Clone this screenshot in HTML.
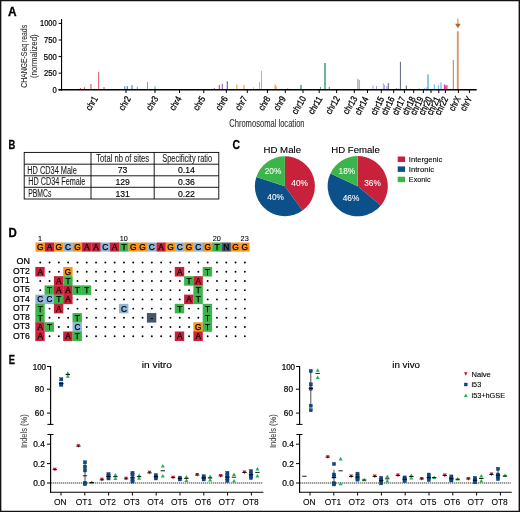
<!DOCTYPE html>
<html><head><meta charset="utf-8"><title>Figure</title>
<style>
html,body{margin:0;padding:0;background:#fff;}
body{width:520px;height:512px;overflow:hidden;}
svg{display:block;font-family:"Liberation Sans",sans-serif;will-change:transform;}
</style></head>
<body>
<svg width="520" height="512" viewBox="0 0 520 512" fill="#000000">
<rect x="0" y="0" width="520" height="512" fill="#ffffff"/>
<text x="26.60" y="87.80" font-size="9.7" textLength="62.90" lengthAdjust="spacingAndGlyphs" transform="rotate(-90 26.60 87.80)" fill="#2b2b2b" stroke="#2b2b2b" stroke-width="0.08">CHANGE-Seq reads</text>
<text x="37.40" y="78.10" font-size="9.7" textLength="43.80" lengthAdjust="spacingAndGlyphs" transform="rotate(-90 37.40 78.10)" fill="#2b2b2b" stroke="#2b2b2b" stroke-width="0.08">(normalized)</text>
<text x="56.70" y="26.45" font-size="8.5" text-anchor="end" textLength="16.73" lengthAdjust="spacingAndGlyphs" stroke="#000000" stroke-width="0.22">1000</text>
<line x1="58.60" y1="23.40" x2="62.10" y2="23.40" stroke="#000000" stroke-width="1.0"/>
<text x="56.70" y="43.05" font-size="8.5" text-anchor="end" textLength="12.65" lengthAdjust="spacingAndGlyphs" stroke="#000000" stroke-width="0.22">750</text>
<line x1="58.60" y1="40.00" x2="62.10" y2="40.00" stroke="#000000" stroke-width="1.0"/>
<text x="56.70" y="59.65" font-size="8.5" text-anchor="end" textLength="12.85" lengthAdjust="spacingAndGlyphs" stroke="#000000" stroke-width="0.22">500</text>
<line x1="58.60" y1="56.60" x2="62.10" y2="56.60" stroke="#000000" stroke-width="1.0"/>
<text x="56.70" y="76.25" font-size="8.5" text-anchor="end" textLength="12.65" lengthAdjust="spacingAndGlyphs" stroke="#000000" stroke-width="0.22">250</text>
<line x1="58.60" y1="73.20" x2="62.10" y2="73.20" stroke="#000000" stroke-width="1.0"/>
<text x="56.70" y="92.85" font-size="8.5" text-anchor="end" textLength="4.28" lengthAdjust="spacingAndGlyphs" stroke="#000000" stroke-width="0.22">0</text>
<line x1="58.60" y1="89.80" x2="62.10" y2="89.80" stroke="#000000" stroke-width="1.0"/>
<rect x="79.85" y="88.00" width="1.10" height="2.10" fill="#e05a70"/>
<rect x="83.85" y="87.30" width="1.10" height="2.80" fill="#e05a70"/>
<rect x="90.10" y="84.00" width="1.60" height="6.10" fill="#ea8b9b"/>
<rect x="98.10" y="72.00" width="1.00" height="18.10" fill="#e05a70"/>
<rect x="103.25" y="87.00" width="1.50" height="3.10" fill="#ea8b9b"/>
<rect x="124.25" y="86.20" width="1.10" height="3.90" fill="#4f8fc4"/>
<rect x="126.75" y="86.20" width="1.10" height="3.90" fill="#3f78ad"/>
<rect x="131.35" y="85.20" width="1.30" height="4.90" fill="#4f8fc4"/>
<rect x="136.80" y="87.00" width="1.00" height="3.10" fill="#4f8fc4"/>
<rect x="147.00" y="82.00" width="1.00" height="8.10" fill="#5cc46a"/>
<rect x="154.45" y="86.20" width="1.10" height="3.90" fill="#5cc46a"/>
<rect x="213.85" y="88.00" width="0.90" height="2.10" fill="#7d52a3"/>
<rect x="218.80" y="85.00" width="1.00" height="5.10" fill="#7d52a3"/>
<rect x="221.80" y="83.80" width="1.00" height="6.30" fill="#7d52a3"/>
<rect x="226.75" y="81.30" width="1.10" height="8.80" fill="#7d52a3"/>
<rect x="236.15" y="84.50" width="1.30" height="5.60" fill="#f7a64a"/>
<rect x="243.35" y="85.00" width="1.30" height="5.10" fill="#f7a64a"/>
<rect x="253.00" y="87.50" width="1.00" height="2.60" fill="#f7a64a"/>
<rect x="259.00" y="82.00" width="1.00" height="8.10" fill="#f7a64a"/>
<rect x="260.95" y="70.80" width="1.10" height="19.30" fill="#f7a64a"/>
<rect x="274.70" y="84.50" width="1.00" height="5.60" fill="#ef8d1f"/>
<rect x="275.70" y="86.30" width="1.00" height="3.80" fill="#ef8d1f"/>
<rect x="287.00" y="88.30" width="1.20" height="1.80" fill="#ef8d1f"/>
<rect x="300.20" y="85.00" width="1.60" height="5.10" fill="#57a893"/>
<rect x="319.95" y="87.00" width="1.10" height="3.10" fill="#57a893"/>
<rect x="324.15" y="63.00" width="1.70" height="27.10" fill="#57a893"/>
<rect x="328.65" y="87.00" width="1.30" height="3.10" fill="#57a893"/>
<rect x="357.15" y="78.80" width="1.30" height="11.30" fill="#a9a3dc"/>
<rect x="358.70" y="80.00" width="1.20" height="10.10" fill="#a9a3dc"/>
<rect x="372.45" y="85.50" width="1.10" height="4.60" fill="#a9a3dc"/>
<rect x="376.00" y="86.00" width="1.00" height="4.10" fill="#a9a3dc"/>
<rect x="382.80" y="83.30" width="1.00" height="6.80" fill="#a9a3dc"/>
<rect x="384.10" y="85.00" width="1.00" height="5.10" fill="#a9a3dc"/>
<rect x="386.30" y="86.00" width="1.00" height="4.10" fill="#a9a3dc"/>
<rect x="387.80" y="83.00" width="1.00" height="7.10" fill="#5c6478"/>
<rect x="395.80" y="88.20" width="1.00" height="1.90" fill="#5c6478"/>
<rect x="397.80" y="88.60" width="1.00" height="1.50" fill="#5c6478"/>
<rect x="426.50" y="87.00" width="1.00" height="3.10" fill="#62b8ea"/>
<rect x="399.90" y="61.80" width="1.00" height="28.30" fill="#5c6478"/>
<rect x="405.80" y="85.50" width="1.00" height="4.60" fill="#5c6478"/>
<rect x="418.80" y="88.30" width="1.00" height="1.80" fill="#62b8ea"/>
<rect x="424.00" y="88.30" width="1.00" height="1.80" fill="#62b8ea"/>
<rect x="427.25" y="74.30" width="1.50" height="15.80" fill="#62b8ea"/>
<rect x="433.80" y="84.30" width="1.00" height="5.80" fill="#62b8ea"/>
<rect x="437.80" y="85.00" width="1.00" height="5.10" fill="#62b8ea"/>
<rect x="440.40" y="82.50" width="1.20" height="7.60" fill="#62b8ea"/>
<rect x="443.90" y="84.50" width="1.20" height="5.60" fill="#e8379a"/>
<rect x="445.10" y="85.50" width="1.20" height="4.60" fill="#e8379a"/>
<rect x="446.30" y="85.00" width="1.20" height="5.10" fill="#e8379a"/>
<rect x="452.80" y="60.00" width="1.00" height="30.10" fill="#c47a45"/>
<rect x="456.85" y="31.30" width="1.90" height="58.80" fill="#d79a6c"/>
<line x1="61.55" y1="19.00" x2="61.55" y2="90.40" stroke="#000000" stroke-width="1.1"/>
<line x1="58.60" y1="89.75" x2="476.70" y2="89.75" stroke="#000000" stroke-width="1.65"/>
<g>
<text x="98.10" y="98.60" font-size="9.4" text-anchor="end" textLength="14.80" lengthAdjust="spacingAndGlyphs" transform="rotate(-59 98.10 98.60)" stroke="#000000" stroke-width="0.28">chr1</text>
<line x1="126.00" y1="89.80" x2="126.00" y2="93.00" stroke="#000000" stroke-width="1.0"/>
<text x="131.20" y="98.60" font-size="9.4" text-anchor="end" textLength="14.80" lengthAdjust="spacingAndGlyphs" transform="rotate(-59 131.20 98.60)" stroke="#000000" stroke-width="0.28">chr2</text>
<line x1="155.00" y1="89.80" x2="155.00" y2="93.00" stroke="#000000" stroke-width="1.0"/>
<text x="158.70" y="98.60" font-size="9.4" text-anchor="end" textLength="14.80" lengthAdjust="spacingAndGlyphs" transform="rotate(-59 158.70 98.60)" stroke="#000000" stroke-width="0.28">chr3</text>
<line x1="179.50" y1="89.80" x2="179.50" y2="93.00" stroke="#000000" stroke-width="1.0"/>
<text x="182.00" y="98.60" font-size="9.4" text-anchor="end" textLength="14.80" lengthAdjust="spacingAndGlyphs" transform="rotate(-59 182.00 98.60)" stroke="#000000" stroke-width="0.28">chr4</text>
<line x1="203.80" y1="89.80" x2="203.80" y2="93.00" stroke="#000000" stroke-width="1.0"/>
<text x="205.70" y="98.60" font-size="9.4" text-anchor="end" textLength="14.80" lengthAdjust="spacingAndGlyphs" transform="rotate(-59 205.70 98.60)" stroke="#000000" stroke-width="0.28">chr5</text>
<line x1="226.30" y1="89.80" x2="226.30" y2="93.00" stroke="#000000" stroke-width="1.0"/>
<text x="228.20" y="98.60" font-size="9.4" text-anchor="end" textLength="14.80" lengthAdjust="spacingAndGlyphs" transform="rotate(-59 228.20 98.60)" stroke="#000000" stroke-width="0.28">chr6</text>
<line x1="247.30" y1="89.80" x2="247.30" y2="93.00" stroke="#000000" stroke-width="1.0"/>
<text x="247.70" y="98.60" font-size="9.4" text-anchor="end" textLength="14.80" lengthAdjust="spacingAndGlyphs" transform="rotate(-59 247.70 98.60)" stroke="#000000" stroke-width="0.28">chr7</text>
<line x1="267.40" y1="89.80" x2="267.40" y2="93.00" stroke="#000000" stroke-width="1.0"/>
<text x="270.80" y="98.60" font-size="9.4" text-anchor="end" textLength="14.80" lengthAdjust="spacingAndGlyphs" transform="rotate(-59 270.80 98.60)" stroke="#000000" stroke-width="0.28">chr8</text>
<line x1="285.30" y1="89.80" x2="285.30" y2="93.00" stroke="#000000" stroke-width="1.0"/>
<text x="286.20" y="98.60" font-size="9.4" text-anchor="end" textLength="14.80" lengthAdjust="spacingAndGlyphs" transform="rotate(-59 286.20 98.60)" stroke="#000000" stroke-width="0.28">chr9</text>
<line x1="303.00" y1="89.80" x2="303.00" y2="93.00" stroke="#000000" stroke-width="1.0"/>
<text x="306.50" y="98.60" font-size="9.4" text-anchor="end" textLength="19.20" lengthAdjust="spacingAndGlyphs" transform="rotate(-59 306.50 98.60)" stroke="#000000" stroke-width="0.28">chr10</text>
<line x1="319.20" y1="89.80" x2="319.20" y2="93.00" stroke="#000000" stroke-width="1.0"/>
<text x="322.80" y="98.60" font-size="9.4" text-anchor="end" textLength="19.20" lengthAdjust="spacingAndGlyphs" transform="rotate(-59 322.80 98.60)" stroke="#000000" stroke-width="0.28">chr11</text>
<line x1="336.60" y1="89.80" x2="336.60" y2="93.00" stroke="#000000" stroke-width="1.0"/>
<text x="340.30" y="98.60" font-size="9.4" text-anchor="end" textLength="19.20" lengthAdjust="spacingAndGlyphs" transform="rotate(-59 340.30 98.60)" stroke="#000000" stroke-width="0.28">chr12</text>
<line x1="354.30" y1="89.80" x2="354.30" y2="93.00" stroke="#000000" stroke-width="1.0"/>
<text x="357.70" y="98.60" font-size="9.4" text-anchor="end" textLength="19.20" lengthAdjust="spacingAndGlyphs" transform="rotate(-59 357.70 98.60)" stroke="#000000" stroke-width="0.28">chr13</text>
<line x1="367.50" y1="89.80" x2="367.50" y2="93.00" stroke="#000000" stroke-width="1.0"/>
<text x="368.80" y="98.60" font-size="9.4" text-anchor="end" textLength="19.20" lengthAdjust="spacingAndGlyphs" transform="rotate(-63 368.80 98.60)" stroke="#000000" stroke-width="0.28">chr14</text>
<line x1="381.30" y1="89.80" x2="381.30" y2="93.00" stroke="#000000" stroke-width="1.0"/>
<text x="384.50" y="98.60" font-size="9.4" text-anchor="end" textLength="19.20" lengthAdjust="spacingAndGlyphs" transform="rotate(-64 384.50 98.60)" stroke="#000000" stroke-width="0.28">chr15</text>
<line x1="393.70" y1="89.80" x2="393.70" y2="93.00" stroke="#000000" stroke-width="1.0"/>
<text x="395.00" y="98.60" font-size="9.4" text-anchor="end" textLength="19.20" lengthAdjust="spacingAndGlyphs" transform="rotate(-64 395.00 98.60)" stroke="#000000" stroke-width="0.28">chr16</text>
<line x1="404.40" y1="89.80" x2="404.40" y2="93.00" stroke="#000000" stroke-width="1.0"/>
<text x="405.80" y="98.60" font-size="9.4" text-anchor="end" textLength="19.20" lengthAdjust="spacingAndGlyphs" transform="rotate(-64 405.80 98.60)" stroke="#000000" stroke-width="0.28">chr17</text>
<line x1="413.70" y1="89.80" x2="413.70" y2="93.00" stroke="#000000" stroke-width="1.0"/>
<text x="415.80" y="98.60" font-size="9.4" text-anchor="end" textLength="19.20" lengthAdjust="spacingAndGlyphs" transform="rotate(-64 415.80 98.60)" stroke="#000000" stroke-width="0.28">chr18</text>
<line x1="423.40" y1="89.80" x2="423.40" y2="93.00" stroke="#000000" stroke-width="1.0"/>
<text x="423.90" y="98.60" font-size="9.4" text-anchor="end" textLength="19.20" lengthAdjust="spacingAndGlyphs" transform="rotate(-64 423.90 98.60)" stroke="#000000" stroke-width="0.28">chr19</text>
<line x1="431.00" y1="89.80" x2="431.00" y2="93.00" stroke="#000000" stroke-width="1.0"/>
<text x="432.40" y="98.60" font-size="9.4" text-anchor="end" textLength="19.20" lengthAdjust="spacingAndGlyphs" transform="rotate(-64 432.40 98.60)" stroke="#000000" stroke-width="0.28">chr20</text>
<line x1="438.80" y1="89.80" x2="438.80" y2="93.00" stroke="#000000" stroke-width="1.0"/>
<text x="440.40" y="98.60" font-size="9.4" text-anchor="end" textLength="19.20" lengthAdjust="spacingAndGlyphs" transform="rotate(-64 440.40 98.60)" stroke="#000000" stroke-width="0.28">chr21</text>
<line x1="445.40" y1="89.80" x2="445.40" y2="93.00" stroke="#000000" stroke-width="1.0"/>
<text x="448.50" y="98.60" font-size="9.4" text-anchor="end" textLength="19.20" lengthAdjust="spacingAndGlyphs" transform="rotate(-64 448.50 98.60)" stroke="#000000" stroke-width="0.28">chr22</text>
<line x1="458.40" y1="89.80" x2="458.40" y2="93.00" stroke="#000000" stroke-width="1.0"/>
<text x="461.00" y="98.60" font-size="9.4" text-anchor="end" textLength="14.80" lengthAdjust="spacingAndGlyphs" transform="rotate(-62 461.00 98.60)" stroke="#000000" stroke-width="0.28">chrX</text>
<line x1="469.40" y1="89.80" x2="469.40" y2="93.00" stroke="#000000" stroke-width="1.0"/>
<text x="472.30" y="98.60" font-size="9.4" text-anchor="end" textLength="14.80" lengthAdjust="spacingAndGlyphs" transform="rotate(-62 472.30 98.60)" stroke="#000000" stroke-width="0.28">chrY</text>
</g>
<text x="229.20" y="127.00" font-size="10.2" textLength="75.40" lengthAdjust="spacingAndGlyphs" fill="#2b2b2b" stroke="#2b2b2b" stroke-width="0.08">Chromosomal location</text>
<line x1="457.90" y1="18.60" x2="457.90" y2="24.60" stroke="#cf8d55" stroke-width="1.1"/>
<path d="M455.1 23.8 L460.7 23.8 L457.9 28.3 Z" fill="#b5651d"/>
<g stroke="#000000" stroke-width="0.9" fill="none">
<rect x="24.2" y="152.4" width="194.60" height="46.60"/>
<line x1="24.2" y1="164.2" x2="218.8" y2="164.2"/>
<line x1="24.2" y1="175.8" x2="218.8" y2="175.8"/>
<line x1="24.2" y1="187.3" x2="218.8" y2="187.3"/>
<line x1="91.0" y1="152.4" x2="91.0" y2="199.0"/>
<line x1="154.2" y1="152.4" x2="154.2" y2="199.0"/>
</g>
<text x="96.30" y="161.80" font-size="10.0" textLength="52.80" lengthAdjust="spacingAndGlyphs" fill="#1a1a1a" stroke="#1a1a1a" stroke-width="0.1">Total nb of sites</text>
<text x="162.30" y="161.80" font-size="10.0" textLength="49.80" lengthAdjust="spacingAndGlyphs" fill="#1a1a1a" stroke="#1a1a1a" stroke-width="0.1">Specificity ratio</text>
<text x="27.30" y="173.60" font-size="10.0" textLength="49.50" lengthAdjust="spacingAndGlyphs" fill="#1a1a1a" stroke="#1a1a1a" stroke-width="0.1">HD CD34 Male</text>
<text x="122.60" y="173.40" font-size="8.6" text-anchor="middle" stroke="#000000" stroke-width="0.15">73</text>
<text x="186.40" y="173.40" font-size="8.6" text-anchor="middle" textLength="16.90" lengthAdjust="spacingAndGlyphs" stroke="#000000" stroke-width="0.15">0.14</text>
<text x="28.20" y="185.15" font-size="10.0" textLength="57.20" lengthAdjust="spacingAndGlyphs" fill="#1a1a1a" stroke="#1a1a1a" stroke-width="0.1">HD CD34 Female</text>
<text x="122.60" y="184.95" font-size="8.6" text-anchor="middle" stroke="#000000" stroke-width="0.15">129</text>
<text x="186.40" y="184.95" font-size="8.6" text-anchor="middle" textLength="16.90" lengthAdjust="spacingAndGlyphs" stroke="#000000" stroke-width="0.15">0.36</text>
<text x="28.20" y="196.75" font-size="10.0" textLength="23.10" lengthAdjust="spacingAndGlyphs" fill="#1a1a1a" stroke="#1a1a1a" stroke-width="0.1">PBMCs</text>
<text x="122.60" y="196.55" font-size="8.6" text-anchor="middle" stroke="#000000" stroke-width="0.15">131</text>
<text x="186.40" y="196.55" font-size="8.6" text-anchor="middle" textLength="16.90" lengthAdjust="spacingAndGlyphs" stroke="#000000" stroke-width="0.15">0.22</text>
<path d="M284.9 186.2 L284.90 156.20 A30.0 30.0 0 0 1 302.53 210.47 Z" fill="#c8213b"/>
<path d="M284.9 186.2 L302.53 210.47 A30.0 30.0 0 0 1 256.37 176.93 Z" fill="#0c5089"/>
<path d="M284.9 186.2 L256.37 176.93 A30.0 30.0 0 0 1 284.90 156.20 Z" fill="#3bb54a"/>
<path d="M357.7 186.2 L357.70 156.10 A30.1 30.1 0 0 1 380.89 205.39 Z" fill="#c8213b"/>
<path d="M357.7 186.2 L380.89 205.39 A30.1 30.1 0 0 1 330.46 173.38 Z" fill="#0c5089"/>
<path d="M357.7 186.2 L330.46 173.38 A30.1 30.1 0 0 1 357.70 156.10 Z" fill="#3bb54a"/>
<text x="263.50" y="152.60" font-size="9.4" textLength="37.50" lengthAdjust="spacingAndGlyphs" stroke="#000000" stroke-width="0.12">HD Male</text>
<text x="331.30" y="152.60" font-size="9.4" textLength="48.50" lengthAdjust="spacingAndGlyphs" stroke="#000000" stroke-width="0.12">HD Female</text>
<text x="299.60" y="186.40" font-size="8.6" text-anchor="middle" textLength="16.60" lengthAdjust="spacingAndGlyphs" fill="#ffffff" stroke="#ffffff" stroke-width="0.08">40%</text>
<text x="273.00" y="173.90" font-size="8.6" text-anchor="middle" textLength="16.60" lengthAdjust="spacingAndGlyphs" fill="#ffffff" stroke="#ffffff" stroke-width="0.08">20%</text>
<text x="275.60" y="200.40" font-size="8.6" text-anchor="middle" textLength="16.60" lengthAdjust="spacingAndGlyphs" fill="#ffffff" stroke="#ffffff" stroke-width="0.08">40%</text>
<text x="372.50" y="186.20" font-size="8.6" text-anchor="middle" textLength="16.60" lengthAdjust="spacingAndGlyphs" fill="#ffffff" stroke="#ffffff" stroke-width="0.08">36%</text>
<text x="346.90" y="173.50" font-size="8.6" text-anchor="middle" textLength="16.60" lengthAdjust="spacingAndGlyphs" fill="#ffffff" stroke="#ffffff" stroke-width="0.08">18%</text>
<text x="351.00" y="200.50" font-size="8.6" text-anchor="middle" textLength="16.60" lengthAdjust="spacingAndGlyphs" fill="#ffffff" stroke="#ffffff" stroke-width="0.08">46%</text>
<rect x="397.70" y="156.50" width="7.40" height="5.50" fill="#c8213b"/>
<text x="408.80" y="161.80" font-size="7.6" textLength="33.40" lengthAdjust="spacingAndGlyphs" stroke="#000000" stroke-width="0.1">Intergenic</text>
<rect x="397.70" y="166.40" width="7.40" height="5.50" fill="#0c5089"/>
<text x="408.80" y="171.70" font-size="7.6" textLength="25.20" lengthAdjust="spacingAndGlyphs" stroke="#000000" stroke-width="0.1">Intronic</text>
<rect x="397.70" y="176.70" width="7.40" height="5.50" fill="#3bb54a"/>
<text x="408.80" y="182.00" font-size="7.6" textLength="21.80" lengthAdjust="spacingAndGlyphs" stroke="#000000" stroke-width="0.1">Exonic</text>
<rect x="35.55" y="242.50" width="9.40" height="9.10" fill="#f7941d"/>
<rect x="44.85" y="242.50" width="9.40" height="9.10" fill="#c8213b"/>
<rect x="54.15" y="242.50" width="9.40" height="9.10" fill="#f7941d"/>
<rect x="63.45" y="242.50" width="9.40" height="9.10" fill="#8fb5d9"/>
<rect x="72.75" y="242.50" width="9.40" height="9.10" fill="#f7941d"/>
<rect x="82.05" y="242.50" width="9.40" height="9.10" fill="#c8213b"/>
<rect x="91.35" y="242.50" width="9.40" height="9.10" fill="#c8213b"/>
<rect x="100.65" y="242.50" width="9.40" height="9.10" fill="#8fb5d9"/>
<rect x="109.95" y="242.50" width="9.40" height="9.10" fill="#c8213b"/>
<rect x="119.25" y="242.50" width="9.40" height="9.10" fill="#3bb54a"/>
<rect x="128.55" y="242.50" width="9.40" height="9.10" fill="#f7941d"/>
<rect x="137.85" y="242.50" width="9.40" height="9.10" fill="#f7941d"/>
<rect x="147.15" y="242.50" width="9.40" height="9.10" fill="#8fb5d9"/>
<rect x="156.45" y="242.50" width="9.40" height="9.10" fill="#c8213b"/>
<rect x="165.75" y="242.50" width="9.40" height="9.10" fill="#f7941d"/>
<rect x="175.05" y="242.50" width="9.40" height="9.10" fill="#8fb5d9"/>
<rect x="184.35" y="242.50" width="9.40" height="9.10" fill="#f7941d"/>
<rect x="193.65" y="242.50" width="9.40" height="9.10" fill="#8fb5d9"/>
<rect x="202.95" y="242.50" width="9.40" height="9.10" fill="#f7941d"/>
<rect x="212.25" y="242.50" width="9.40" height="9.10" fill="#3bb54a"/>
<rect x="221.55" y="242.50" width="9.40" height="9.10" fill="#45556b"/>
<rect x="230.85" y="242.50" width="9.40" height="9.10" fill="#f7941d"/>
<rect x="240.15" y="242.50" width="9.40" height="9.10" fill="#f7941d"/>
<g font-size="8.4" text-anchor="middle" stroke="#000" stroke-width="0.25">
<text x="40.25" y="250.15">G</text>
<text x="49.55" y="250.15">A</text>
<text x="58.85" y="250.15">G</text>
<text x="68.15" y="250.15">C</text>
<text x="77.45" y="250.15">G</text>
<text x="86.75" y="250.15">A</text>
<text x="96.05" y="250.15">A</text>
<text x="105.35" y="250.15">C</text>
<text x="114.65" y="250.15">A</text>
<text x="123.95" y="250.15">T</text>
<text x="133.25" y="250.15">G</text>
<text x="142.55" y="250.15">G</text>
<text x="151.85" y="250.15">C</text>
<text x="161.15" y="250.15">A</text>
<text x="170.45" y="250.15">G</text>
<text x="179.75" y="250.15">C</text>
<text x="189.05" y="250.15">G</text>
<text x="198.35" y="250.15">C</text>
<text x="207.65" y="250.15">G</text>
<text x="216.95" y="250.15">T</text>
<text x="226.25" y="250.15">N</text>
<text x="235.55" y="250.15">G</text>
<text x="244.85" y="250.15">G</text>
</g>
<text x="40.05" y="240.90" font-size="7.3" text-anchor="middle" stroke="#000000" stroke-width="0.08">1</text>
<text x="123.75" y="240.90" font-size="7.3" text-anchor="middle" stroke="#000000" stroke-width="0.08">10</text>
<text x="216.75" y="240.90" font-size="7.3" text-anchor="middle" stroke="#000000" stroke-width="0.08">20</text>
<text x="244.65" y="240.90" font-size="7.3" text-anchor="middle" stroke="#000000" stroke-width="0.08">23</text>
<rect x="35.30" y="266.96" width="9.40" height="9.52" fill="#c8213b"/>
<rect x="63.20" y="266.96" width="9.40" height="9.52" fill="#f7941d"/>
<rect x="174.80" y="266.96" width="9.40" height="9.52" fill="#c8213b"/>
<rect x="202.70" y="266.96" width="9.40" height="9.52" fill="#3bb54a"/>
<rect x="53.90" y="276.18" width="9.40" height="9.52" fill="#c8213b"/>
<rect x="63.20" y="276.18" width="9.40" height="9.52" fill="#3bb54a"/>
<rect x="184.10" y="276.18" width="9.40" height="9.52" fill="#3bb54a"/>
<rect x="193.40" y="276.18" width="9.40" height="9.52" fill="#c8213b"/>
<rect x="44.60" y="285.40" width="9.40" height="9.52" fill="#3bb54a"/>
<rect x="53.90" y="285.40" width="9.40" height="9.52" fill="#c8213b"/>
<rect x="63.20" y="285.40" width="9.40" height="9.52" fill="#c8213b"/>
<rect x="72.50" y="285.40" width="9.40" height="9.52" fill="#3bb54a"/>
<rect x="81.80" y="285.40" width="9.40" height="9.52" fill="#3bb54a"/>
<rect x="193.40" y="285.40" width="9.40" height="9.52" fill="#3bb54a"/>
<rect x="35.30" y="294.62" width="9.40" height="9.52" fill="#8fb5d9"/>
<rect x="44.60" y="294.62" width="9.40" height="9.52" fill="#8fb5d9"/>
<rect x="53.90" y="294.62" width="9.40" height="9.52" fill="#3bb54a"/>
<rect x="63.20" y="294.62" width="9.40" height="9.52" fill="#c8213b"/>
<rect x="184.10" y="294.62" width="9.40" height="9.52" fill="#c8213b"/>
<rect x="193.40" y="294.62" width="9.40" height="9.52" fill="#3bb54a"/>
<rect x="35.30" y="303.84" width="9.40" height="9.52" fill="#3bb54a"/>
<rect x="53.90" y="303.84" width="9.40" height="9.52" fill="#c8213b"/>
<rect x="119.00" y="303.84" width="9.40" height="9.52" fill="#8fb5d9"/>
<rect x="174.80" y="303.84" width="9.40" height="9.52" fill="#3bb54a"/>
<rect x="202.70" y="303.84" width="9.40" height="9.52" fill="#3bb54a"/>
<rect x="35.30" y="313.06" width="9.40" height="9.52" fill="#3bb54a"/>
<rect x="72.50" y="313.06" width="9.40" height="9.52" fill="#3bb54a"/>
<rect x="146.90" y="313.06" width="9.40" height="9.52" fill="#45556b"/>
<rect x="202.70" y="313.06" width="9.40" height="9.52" fill="#3bb54a"/>
<rect x="35.30" y="322.28" width="9.40" height="9.52" fill="#c8213b"/>
<rect x="44.60" y="322.28" width="9.40" height="9.52" fill="#3bb54a"/>
<rect x="72.50" y="322.28" width="9.40" height="9.52" fill="#8fb5d9"/>
<rect x="193.40" y="322.28" width="9.40" height="9.52" fill="#f7941d"/>
<rect x="202.70" y="322.28" width="9.40" height="9.52" fill="#3bb54a"/>
<rect x="35.30" y="331.50" width="9.40" height="9.52" fill="#c8213b"/>
<rect x="63.20" y="331.50" width="9.40" height="9.52" fill="#c8213b"/>
<rect x="72.50" y="331.50" width="9.40" height="9.52" fill="#3bb54a"/>
<rect x="174.80" y="331.50" width="9.40" height="9.52" fill="#c8213b"/>
<rect x="193.40" y="331.50" width="9.40" height="9.52" fill="#c8213b"/>
<g fill="#000000">
<circle cx="40.25" cy="262.50" r="0.95"/>
<circle cx="49.55" cy="262.50" r="0.95"/>
<circle cx="58.85" cy="262.50" r="0.95"/>
<circle cx="68.15" cy="262.50" r="0.95"/>
<circle cx="77.45" cy="262.50" r="0.95"/>
<circle cx="86.75" cy="262.50" r="0.95"/>
<circle cx="96.05" cy="262.50" r="0.95"/>
<circle cx="105.35" cy="262.50" r="0.95"/>
<circle cx="114.65" cy="262.50" r="0.95"/>
<circle cx="123.95" cy="262.50" r="0.95"/>
<circle cx="133.25" cy="262.50" r="0.95"/>
<circle cx="142.55" cy="262.50" r="0.95"/>
<circle cx="151.85" cy="262.50" r="0.95"/>
<circle cx="161.15" cy="262.50" r="0.95"/>
<circle cx="170.45" cy="262.50" r="0.95"/>
<circle cx="179.75" cy="262.50" r="0.95"/>
<circle cx="189.05" cy="262.50" r="0.95"/>
<circle cx="198.35" cy="262.50" r="0.95"/>
<circle cx="207.65" cy="262.50" r="0.95"/>
<circle cx="216.95" cy="262.50" r="0.95"/>
<circle cx="226.25" cy="262.50" r="0.95"/>
<circle cx="235.55" cy="262.50" r="0.95"/>
<circle cx="244.85" cy="262.50" r="0.95"/>
<circle cx="49.55" cy="271.72" r="0.95"/>
<circle cx="58.85" cy="271.72" r="0.95"/>
<circle cx="77.45" cy="271.72" r="0.95"/>
<circle cx="86.75" cy="271.72" r="0.95"/>
<circle cx="96.05" cy="271.72" r="0.95"/>
<circle cx="105.35" cy="271.72" r="0.95"/>
<circle cx="114.65" cy="271.72" r="0.95"/>
<circle cx="123.95" cy="271.72" r="0.95"/>
<circle cx="133.25" cy="271.72" r="0.95"/>
<circle cx="142.55" cy="271.72" r="0.95"/>
<circle cx="151.85" cy="271.72" r="0.95"/>
<circle cx="161.15" cy="271.72" r="0.95"/>
<circle cx="170.45" cy="271.72" r="0.95"/>
<circle cx="189.05" cy="271.72" r="0.95"/>
<circle cx="198.35" cy="271.72" r="0.95"/>
<circle cx="216.95" cy="271.72" r="0.95"/>
<circle cx="226.25" cy="271.72" r="0.95"/>
<circle cx="235.55" cy="271.72" r="0.95"/>
<circle cx="244.85" cy="271.72" r="0.95"/>
<circle cx="40.25" cy="280.94" r="0.95"/>
<circle cx="49.55" cy="280.94" r="0.95"/>
<circle cx="77.45" cy="280.94" r="0.95"/>
<circle cx="86.75" cy="280.94" r="0.95"/>
<circle cx="96.05" cy="280.94" r="0.95"/>
<circle cx="105.35" cy="280.94" r="0.95"/>
<circle cx="114.65" cy="280.94" r="0.95"/>
<circle cx="123.95" cy="280.94" r="0.95"/>
<circle cx="133.25" cy="280.94" r="0.95"/>
<circle cx="142.55" cy="280.94" r="0.95"/>
<circle cx="151.85" cy="280.94" r="0.95"/>
<circle cx="161.15" cy="280.94" r="0.95"/>
<circle cx="170.45" cy="280.94" r="0.95"/>
<circle cx="179.75" cy="280.94" r="0.95"/>
<circle cx="207.65" cy="280.94" r="0.95"/>
<circle cx="216.95" cy="280.94" r="0.95"/>
<circle cx="226.25" cy="280.94" r="0.95"/>
<circle cx="235.55" cy="280.94" r="0.95"/>
<circle cx="244.85" cy="280.94" r="0.95"/>
<circle cx="40.25" cy="290.16" r="0.95"/>
<circle cx="96.05" cy="290.16" r="0.95"/>
<circle cx="105.35" cy="290.16" r="0.95"/>
<circle cx="114.65" cy="290.16" r="0.95"/>
<circle cx="123.95" cy="290.16" r="0.95"/>
<circle cx="133.25" cy="290.16" r="0.95"/>
<circle cx="142.55" cy="290.16" r="0.95"/>
<circle cx="151.85" cy="290.16" r="0.95"/>
<circle cx="161.15" cy="290.16" r="0.95"/>
<circle cx="170.45" cy="290.16" r="0.95"/>
<circle cx="179.75" cy="290.16" r="0.95"/>
<circle cx="189.05" cy="290.16" r="0.95"/>
<circle cx="207.65" cy="290.16" r="0.95"/>
<circle cx="216.95" cy="290.16" r="0.95"/>
<circle cx="226.25" cy="290.16" r="0.95"/>
<circle cx="235.55" cy="290.16" r="0.95"/>
<circle cx="244.85" cy="290.16" r="0.95"/>
<circle cx="77.45" cy="299.38" r="0.95"/>
<circle cx="86.75" cy="299.38" r="0.95"/>
<circle cx="96.05" cy="299.38" r="0.95"/>
<circle cx="105.35" cy="299.38" r="0.95"/>
<circle cx="114.65" cy="299.38" r="0.95"/>
<circle cx="123.95" cy="299.38" r="0.95"/>
<circle cx="133.25" cy="299.38" r="0.95"/>
<circle cx="142.55" cy="299.38" r="0.95"/>
<circle cx="151.85" cy="299.38" r="0.95"/>
<circle cx="161.15" cy="299.38" r="0.95"/>
<circle cx="170.45" cy="299.38" r="0.95"/>
<circle cx="179.75" cy="299.38" r="0.95"/>
<circle cx="207.65" cy="299.38" r="0.95"/>
<circle cx="216.95" cy="299.38" r="0.95"/>
<circle cx="226.25" cy="299.38" r="0.95"/>
<circle cx="235.55" cy="299.38" r="0.95"/>
<circle cx="244.85" cy="299.38" r="0.95"/>
<circle cx="49.55" cy="308.60" r="0.95"/>
<circle cx="68.15" cy="308.60" r="0.95"/>
<circle cx="77.45" cy="308.60" r="0.95"/>
<circle cx="86.75" cy="308.60" r="0.95"/>
<circle cx="96.05" cy="308.60" r="0.95"/>
<circle cx="105.35" cy="308.60" r="0.95"/>
<circle cx="114.65" cy="308.60" r="0.95"/>
<circle cx="133.25" cy="308.60" r="0.95"/>
<circle cx="142.55" cy="308.60" r="0.95"/>
<circle cx="151.85" cy="308.60" r="0.95"/>
<circle cx="161.15" cy="308.60" r="0.95"/>
<circle cx="170.45" cy="308.60" r="0.95"/>
<circle cx="189.05" cy="308.60" r="0.95"/>
<circle cx="198.35" cy="308.60" r="0.95"/>
<circle cx="216.95" cy="308.60" r="0.95"/>
<circle cx="226.25" cy="308.60" r="0.95"/>
<circle cx="235.55" cy="308.60" r="0.95"/>
<circle cx="244.85" cy="308.60" r="0.95"/>
<circle cx="49.55" cy="317.82" r="0.95"/>
<circle cx="58.85" cy="317.82" r="0.95"/>
<circle cx="68.15" cy="317.82" r="0.95"/>
<circle cx="86.75" cy="317.82" r="0.95"/>
<circle cx="96.05" cy="317.82" r="0.95"/>
<circle cx="105.35" cy="317.82" r="0.95"/>
<circle cx="114.65" cy="317.82" r="0.95"/>
<circle cx="123.95" cy="317.82" r="0.95"/>
<circle cx="133.25" cy="317.82" r="0.95"/>
<circle cx="142.55" cy="317.82" r="0.95"/>
<circle cx="161.15" cy="317.82" r="0.95"/>
<circle cx="170.45" cy="317.82" r="0.95"/>
<circle cx="179.75" cy="317.82" r="0.95"/>
<circle cx="189.05" cy="317.82" r="0.95"/>
<circle cx="198.35" cy="317.82" r="0.95"/>
<circle cx="216.95" cy="317.82" r="0.95"/>
<circle cx="226.25" cy="317.82" r="0.95"/>
<circle cx="235.55" cy="317.82" r="0.95"/>
<circle cx="244.85" cy="317.82" r="0.95"/>
<circle cx="58.85" cy="327.04" r="0.95"/>
<circle cx="68.15" cy="327.04" r="0.95"/>
<circle cx="86.75" cy="327.04" r="0.95"/>
<circle cx="96.05" cy="327.04" r="0.95"/>
<circle cx="105.35" cy="327.04" r="0.95"/>
<circle cx="114.65" cy="327.04" r="0.95"/>
<circle cx="123.95" cy="327.04" r="0.95"/>
<circle cx="133.25" cy="327.04" r="0.95"/>
<circle cx="142.55" cy="327.04" r="0.95"/>
<circle cx="151.85" cy="327.04" r="0.95"/>
<circle cx="161.15" cy="327.04" r="0.95"/>
<circle cx="170.45" cy="327.04" r="0.95"/>
<circle cx="179.75" cy="327.04" r="0.95"/>
<circle cx="189.05" cy="327.04" r="0.95"/>
<circle cx="216.95" cy="327.04" r="0.95"/>
<circle cx="226.25" cy="327.04" r="0.95"/>
<circle cx="235.55" cy="327.04" r="0.95"/>
<circle cx="244.85" cy="327.04" r="0.95"/>
<circle cx="49.55" cy="336.26" r="0.95"/>
<circle cx="58.85" cy="336.26" r="0.95"/>
<circle cx="86.75" cy="336.26" r="0.95"/>
<circle cx="96.05" cy="336.26" r="0.95"/>
<circle cx="105.35" cy="336.26" r="0.95"/>
<circle cx="114.65" cy="336.26" r="0.95"/>
<circle cx="123.95" cy="336.26" r="0.95"/>
<circle cx="133.25" cy="336.26" r="0.95"/>
<circle cx="142.55" cy="336.26" r="0.95"/>
<circle cx="151.85" cy="336.26" r="0.95"/>
<circle cx="161.15" cy="336.26" r="0.95"/>
<circle cx="170.45" cy="336.26" r="0.95"/>
<circle cx="189.05" cy="336.26" r="0.95"/>
<circle cx="207.65" cy="336.26" r="0.95"/>
<circle cx="216.95" cy="336.26" r="0.95"/>
<circle cx="226.25" cy="336.26" r="0.95"/>
<circle cx="235.55" cy="336.26" r="0.95"/>
<circle cx="244.85" cy="336.26" r="0.95"/>
</g>
<g font-size="8.2" text-anchor="middle" stroke="#000" stroke-width="0.25">
<text x="40.15" y="274.67">A</text>
<text x="68.05" y="274.67">G</text>
<text x="179.65" y="274.67">A</text>
<text x="207.55" y="274.67">T</text>
<text x="58.75" y="283.89">A</text>
<text x="68.05" y="283.89">T</text>
<text x="188.95" y="283.89">T</text>
<text x="198.25" y="283.89">A</text>
<text x="49.45" y="293.11">T</text>
<text x="58.75" y="293.11">A</text>
<text x="68.05" y="293.11">A</text>
<text x="77.35" y="293.11">T</text>
<text x="86.65" y="293.11">T</text>
<text x="198.25" y="293.11">T</text>
<text x="40.15" y="302.33">C</text>
<text x="49.45" y="302.33">C</text>
<text x="58.75" y="302.33">T</text>
<text x="68.05" y="302.33">A</text>
<text x="188.95" y="302.33">A</text>
<text x="198.25" y="302.33">T</text>
<text x="40.15" y="311.55">T</text>
<text x="58.75" y="311.55">A</text>
<text x="123.85" y="311.55">C</text>
<text x="179.65" y="311.55">T</text>
<text x="207.55" y="311.55">T</text>
<text x="40.15" y="320.77">T</text>
<text x="77.35" y="320.77">T</text>
<text x="151.75" y="320.77">-</text>
<text x="207.55" y="320.77">T</text>
<text x="40.15" y="329.99">A</text>
<text x="49.45" y="329.99">T</text>
<text x="77.35" y="329.99">C</text>
<text x="198.25" y="329.99">G</text>
<text x="207.55" y="329.99">T</text>
<text x="40.15" y="339.21">A</text>
<text x="68.05" y="339.21">A</text>
<text x="77.35" y="339.21">T</text>
<text x="179.65" y="339.21">A</text>
<text x="198.25" y="339.21">A</text>
</g>
<text x="29.90" y="264.10" font-size="8.4" text-anchor="end" textLength="13.40" lengthAdjust="spacingAndGlyphs" stroke="#000000" stroke-width="0.22">ON</text>
<text x="29.90" y="274.02" font-size="8.4" text-anchor="end" textLength="16.80" lengthAdjust="spacingAndGlyphs" stroke="#000000" stroke-width="0.22">OT2</text>
<text x="29.90" y="283.24" font-size="8.4" text-anchor="end" textLength="16.80" lengthAdjust="spacingAndGlyphs" stroke="#000000" stroke-width="0.22">OT1</text>
<text x="29.90" y="292.46" font-size="8.4" text-anchor="end" textLength="16.80" lengthAdjust="spacingAndGlyphs" stroke="#000000" stroke-width="0.22">OT5</text>
<text x="29.90" y="301.68" font-size="8.4" text-anchor="end" textLength="16.80" lengthAdjust="spacingAndGlyphs" stroke="#000000" stroke-width="0.22">OT4</text>
<text x="29.90" y="310.90" font-size="8.4" text-anchor="end" textLength="16.80" lengthAdjust="spacingAndGlyphs" stroke="#000000" stroke-width="0.22">OT7</text>
<text x="29.90" y="320.12" font-size="8.4" text-anchor="end" textLength="16.80" lengthAdjust="spacingAndGlyphs" stroke="#000000" stroke-width="0.22">OT8</text>
<text x="29.90" y="329.34" font-size="8.4" text-anchor="end" textLength="16.80" lengthAdjust="spacingAndGlyphs" stroke="#000000" stroke-width="0.22">OT3</text>
<text x="29.90" y="338.56" font-size="8.4" text-anchor="end" textLength="16.80" lengthAdjust="spacingAndGlyphs" stroke="#000000" stroke-width="0.22">OT6</text>
<text x="141.80" y="367.70" font-size="8.9" textLength="30.00" lengthAdjust="spacingAndGlyphs" stroke="#000000" stroke-width="0.14">in vitro</text>
<text x="392.30" y="367.70" font-size="8.9" textLength="27.70" lengthAdjust="spacingAndGlyphs" stroke="#000000" stroke-width="0.14">in vivo</text>
<line x1="50.60" y1="366.00" x2="50.60" y2="424.40" stroke="#000000" stroke-width="1.15"/>
<line x1="50.60" y1="434.50" x2="50.60" y2="492.85" stroke="#000000" stroke-width="1.15"/>
<line x1="47.40" y1="424.40" x2="53.50" y2="424.40" stroke="#000000" stroke-width="1.0"/>
<line x1="47.40" y1="434.50" x2="53.50" y2="434.50" stroke="#000000" stroke-width="1.0"/>
<line x1="47.00" y1="366.50" x2="50.60" y2="366.50" stroke="#000000" stroke-width="1.0"/>
<text x="39.40" y="369.60" font-size="8.8" text-anchor="middle" textLength="13.40" lengthAdjust="spacingAndGlyphs" stroke="#000000" stroke-width="0.22">100</text>
<line x1="47.00" y1="389.20" x2="50.60" y2="389.20" stroke="#000000" stroke-width="1.0"/>
<text x="39.40" y="392.30" font-size="8.8" text-anchor="middle" textLength="9.10" lengthAdjust="spacingAndGlyphs" stroke="#000000" stroke-width="0.22">80</text>
<line x1="47.00" y1="413.10" x2="50.60" y2="413.10" stroke="#000000" stroke-width="1.0"/>
<text x="39.40" y="416.20" font-size="8.8" text-anchor="middle" textLength="9.10" lengthAdjust="spacingAndGlyphs" stroke="#000000" stroke-width="0.22">60</text>
<line x1="47.00" y1="444.20" x2="50.60" y2="444.20" stroke="#000000" stroke-width="1.0"/>
<text x="39.00" y="447.30" font-size="8.8" text-anchor="middle" textLength="11.70" lengthAdjust="spacingAndGlyphs" stroke="#000000" stroke-width="0.22">0.4</text>
<line x1="47.00" y1="463.60" x2="50.60" y2="463.60" stroke="#000000" stroke-width="1.0"/>
<text x="39.00" y="466.70" font-size="8.8" text-anchor="middle" textLength="11.70" lengthAdjust="spacingAndGlyphs" stroke="#000000" stroke-width="0.22">0.2</text>
<line x1="47.00" y1="483.00" x2="50.60" y2="483.00" stroke="#000000" stroke-width="1.0"/>
<text x="39.00" y="486.10" font-size="8.8" text-anchor="middle" textLength="11.70" lengthAdjust="spacingAndGlyphs" stroke="#000000" stroke-width="0.22">0.0</text>
<line x1="50.05" y1="492.30" x2="263.40" y2="492.30" stroke="#000000" stroke-width="1.1"/>
<line x1="51.20" y1="483.0" x2="262.60" y2="483.0" stroke="#000000" stroke-width="1.15" stroke-dasharray="1.05 0.95"/>
<line x1="61.00" y1="492.30" x2="61.00" y2="495.50" stroke="#000000" stroke-width="1.0"/>
<text x="60.20" y="504.70" font-size="8.9" text-anchor="middle" textLength="12.60" lengthAdjust="spacingAndGlyphs" stroke="#000000" stroke-width="0.1">ON</text>
<line x1="84.80" y1="492.30" x2="84.80" y2="495.50" stroke="#000000" stroke-width="1.0"/>
<text x="84.00" y="504.70" font-size="8.9" text-anchor="middle" textLength="16.40" lengthAdjust="spacingAndGlyphs" stroke="#000000" stroke-width="0.1">OT1</text>
<line x1="108.60" y1="492.30" x2="108.60" y2="495.50" stroke="#000000" stroke-width="1.0"/>
<text x="107.80" y="504.70" font-size="8.9" text-anchor="middle" textLength="16.40" lengthAdjust="spacingAndGlyphs" stroke="#000000" stroke-width="0.1">OT2</text>
<line x1="132.40" y1="492.30" x2="132.40" y2="495.50" stroke="#000000" stroke-width="1.0"/>
<text x="131.60" y="504.70" font-size="8.9" text-anchor="middle" textLength="16.40" lengthAdjust="spacingAndGlyphs" stroke="#000000" stroke-width="0.1">OT3</text>
<line x1="156.20" y1="492.30" x2="156.20" y2="495.50" stroke="#000000" stroke-width="1.0"/>
<text x="155.40" y="504.70" font-size="8.9" text-anchor="middle" textLength="16.40" lengthAdjust="spacingAndGlyphs" stroke="#000000" stroke-width="0.1">OT4</text>
<line x1="180.00" y1="492.30" x2="180.00" y2="495.50" stroke="#000000" stroke-width="1.0"/>
<text x="179.20" y="504.70" font-size="8.9" text-anchor="middle" textLength="16.40" lengthAdjust="spacingAndGlyphs" stroke="#000000" stroke-width="0.1">OT5</text>
<line x1="203.80" y1="492.30" x2="203.80" y2="495.50" stroke="#000000" stroke-width="1.0"/>
<text x="203.00" y="504.70" font-size="8.9" text-anchor="middle" textLength="16.40" lengthAdjust="spacingAndGlyphs" stroke="#000000" stroke-width="0.1">OT6</text>
<line x1="227.60" y1="492.30" x2="227.60" y2="495.50" stroke="#000000" stroke-width="1.0"/>
<text x="226.80" y="504.70" font-size="8.9" text-anchor="middle" textLength="16.40" lengthAdjust="spacingAndGlyphs" stroke="#000000" stroke-width="0.1">OT7</text>
<line x1="251.40" y1="492.30" x2="251.40" y2="495.50" stroke="#000000" stroke-width="1.0"/>
<text x="250.60" y="504.70" font-size="8.9" text-anchor="middle" textLength="16.40" lengthAdjust="spacingAndGlyphs" stroke="#000000" stroke-width="0.1">OT8</text>
<text x="26.70" y="431.20" font-size="8.7" text-anchor="middle" textLength="33.80" lengthAdjust="spacingAndGlyphs" transform="rotate(-90 26.70 431.20)" fill="#3d3d3d" stroke="#3d3d3d" stroke-width="0.05">Indels (%)</text>
<path d="M52.90 467.64 L56.70 467.64 L54.80 471.35 Z" fill="#d0102c"/>
<line x1="52.60" y1="469.65" x2="57.00" y2="469.65" stroke="#000" stroke-width="0.9"/>
<rect x="59.70" y="377.70" width="3.20" height="3.20" fill="#0a4a8c" stroke="#062c55" stroke-width="0.35"/>
<rect x="59.70" y="382.10" width="3.20" height="3.20" fill="#0a4a8c" stroke="#062c55" stroke-width="0.35"/>
<rect x="59.70" y="383.30" width="3.20" height="3.20" fill="#0a4a8c" stroke="#062c55" stroke-width="0.35"/>
<line x1="59.10" y1="383.60" x2="63.50" y2="383.60" stroke="#000" stroke-width="0.9"/>
<path d="M65.80 374.80 L69.80 374.80 L67.80 371.30 Z" fill="#22b14c"/>
<path d="M65.80 377.80 L69.80 377.80 L67.80 374.30 Z" fill="#22b14c"/>
<line x1="65.60" y1="374.60" x2="70.00" y2="374.60" stroke="#000" stroke-width="0.9"/>
<path d="M76.50 444.14 L80.30 444.14 L78.40 447.85 Z" fill="#d0102c"/>
<line x1="76.20" y1="446.15" x2="80.60" y2="446.15" stroke="#000" stroke-width="0.9"/>
<line x1="85.00" y1="462.50" x2="85.00" y2="485.00" stroke="#000000" stroke-width="0.7"/>
<rect x="83.40" y="460.70" width="3.20" height="3.20" fill="#0a4a8c" stroke="#062c55" stroke-width="0.35"/>
<rect x="83.40" y="465.10" width="3.20" height="3.20" fill="#0a4a8c" stroke="#062c55" stroke-width="0.35"/>
<rect x="83.40" y="468.80" width="3.20" height="3.20" fill="#0a4a8c" stroke="#062c55" stroke-width="0.35"/>
<rect x="83.40" y="481.30" width="3.20" height="3.20" fill="#0a4a8c" stroke="#062c55" stroke-width="0.35"/>
<rect x="83.40" y="482.60" width="3.20" height="3.20" fill="#0a4a8c" stroke="#062c55" stroke-width="0.35"/>
<line x1="82.80" y1="475.80" x2="87.20" y2="475.80" stroke="#000" stroke-width="0.9"/>
<path d="M89.70 483.90 L93.70 483.90 L91.70 480.40 Z" fill="#22b14c"/>
<line x1="89.50" y1="482.50" x2="93.90" y2="482.50" stroke="#000" stroke-width="0.9"/>
<path d="M100.00 477.84 L103.80 477.84 L101.90 481.55 Z" fill="#d0102c"/>
<line x1="99.70" y1="479.85" x2="104.10" y2="479.85" stroke="#000" stroke-width="0.9"/>
<rect x="106.90" y="472.50" width="3.20" height="3.20" fill="#0a4a8c" stroke="#062c55" stroke-width="0.35"/>
<rect x="106.90" y="474.40" width="3.20" height="3.20" fill="#0a4a8c" stroke="#062c55" stroke-width="0.35"/>
<rect x="106.90" y="476.80" width="3.20" height="3.20" fill="#0a4a8c" stroke="#062c55" stroke-width="0.35"/>
<line x1="106.30" y1="476.40" x2="110.70" y2="476.40" stroke="#000" stroke-width="0.9"/>
<path d="M113.40 476.60 L117.40 476.60 L115.40 473.10 Z" fill="#22b14c"/>
<path d="M113.40 480.00 L117.40 480.00 L115.40 476.50 Z" fill="#22b14c"/>
<line x1="113.20" y1="476.70" x2="117.60" y2="476.70" stroke="#000" stroke-width="0.9"/>
<path d="M124.20 476.84 L128.00 476.84 L126.10 480.55 Z" fill="#d0102c"/>
<line x1="123.90" y1="478.85" x2="128.30" y2="478.85" stroke="#000" stroke-width="0.9"/>
<line x1="132.50" y1="473.00" x2="132.50" y2="481.50" stroke="#000000" stroke-width="0.7"/>
<rect x="130.90" y="471.30" width="3.20" height="3.20" fill="#0a4a8c" stroke="#062c55" stroke-width="0.35"/>
<rect x="130.90" y="473.50" width="3.20" height="3.20" fill="#0a4a8c" stroke="#062c55" stroke-width="0.35"/>
<rect x="130.90" y="477.80" width="3.20" height="3.20" fill="#0a4a8c" stroke="#062c55" stroke-width="0.35"/>
<rect x="130.90" y="479.90" width="3.20" height="3.20" fill="#0a4a8c" stroke="#062c55" stroke-width="0.35"/>
<line x1="130.30" y1="477.70" x2="134.70" y2="477.70" stroke="#000" stroke-width="0.9"/>
<path d="M137.10 477.00 L141.10 477.00 L139.10 473.50 Z" fill="#22b14c"/>
<path d="M137.10 479.70 L141.10 479.70 L139.10 476.20 Z" fill="#22b14c"/>
<line x1="136.90" y1="476.70" x2="141.30" y2="476.70" stroke="#000" stroke-width="0.9"/>
<path d="M147.60 470.84 L151.40 470.84 L149.50 474.55 Z" fill="#d0102c"/>
<line x1="147.30" y1="472.85" x2="151.70" y2="472.85" stroke="#000" stroke-width="0.9"/>
<rect x="154.30" y="473.50" width="3.20" height="3.20" fill="#0a4a8c" stroke="#062c55" stroke-width="0.35"/>
<rect x="154.30" y="475.10" width="3.20" height="3.20" fill="#0a4a8c" stroke="#062c55" stroke-width="0.35"/>
<rect x="154.30" y="476.80" width="3.20" height="3.20" fill="#0a4a8c" stroke="#062c55" stroke-width="0.35"/>
<line x1="153.70" y1="476.70" x2="158.10" y2="476.70" stroke="#000" stroke-width="0.9"/>
<path d="M160.80 467.60 L164.80 467.60 L162.80 464.10 Z" fill="#22b14c"/>
<path d="M160.80 477.60 L164.80 477.60 L162.80 474.10 Z" fill="#22b14c"/>
<line x1="160.60" y1="470.80" x2="165.00" y2="470.80" stroke="#000" stroke-width="0.9"/>
<path d="M171.20 475.64 L175.00 475.64 L173.10 479.35 Z" fill="#d0102c"/>
<line x1="170.90" y1="477.65" x2="175.30" y2="477.65" stroke="#000" stroke-width="0.9"/>
<rect x="178.30" y="476.10" width="3.20" height="3.20" fill="#0a4a8c" stroke="#062c55" stroke-width="0.35"/>
<rect x="178.30" y="477.80" width="3.20" height="3.20" fill="#0a4a8c" stroke="#062c55" stroke-width="0.35"/>
<line x1="177.70" y1="478.60" x2="182.10" y2="478.60" stroke="#000" stroke-width="0.9"/>
<path d="M184.40 478.60 L188.40 478.60 L186.40 475.10 Z" fill="#22b14c"/>
<path d="M184.40 481.90 L188.40 481.90 L186.40 478.40 Z" fill="#22b14c"/>
<line x1="184.20" y1="478.40" x2="188.60" y2="478.40" stroke="#000" stroke-width="0.9"/>
<path d="M195.30 473.05 L199.10 473.05 L197.20 476.75 Z" fill="#d0102c"/>
<line x1="195.00" y1="475.05" x2="199.40" y2="475.05" stroke="#000" stroke-width="0.9"/>
<rect x="202.10" y="474.70" width="3.20" height="3.20" fill="#0a4a8c" stroke="#062c55" stroke-width="0.35"/>
<rect x="202.10" y="476.40" width="3.20" height="3.20" fill="#0a4a8c" stroke="#062c55" stroke-width="0.35"/>
<rect x="202.10" y="477.80" width="3.20" height="3.20" fill="#0a4a8c" stroke="#062c55" stroke-width="0.35"/>
<line x1="201.50" y1="478.00" x2="205.90" y2="478.00" stroke="#000" stroke-width="0.9"/>
<path d="M208.10 478.10 L212.10 478.10 L210.10 474.60 Z" fill="#22b14c"/>
<path d="M208.10 481.40 L212.10 481.40 L210.10 477.90 Z" fill="#22b14c"/>
<line x1="207.90" y1="478.00" x2="212.30" y2="478.00" stroke="#000" stroke-width="0.9"/>
<path d="M218.80 473.94 L222.60 473.94 L220.70 477.65 Z" fill="#d0102c"/>
<line x1="218.50" y1="475.95" x2="222.90" y2="475.95" stroke="#000" stroke-width="0.9"/>
<line x1="227.40" y1="473.00" x2="227.40" y2="480.70" stroke="#000000" stroke-width="0.7"/>
<rect x="225.80" y="471.30" width="3.20" height="3.20" fill="#0a4a8c" stroke="#062c55" stroke-width="0.35"/>
<rect x="225.80" y="473.90" width="3.20" height="3.20" fill="#0a4a8c" stroke="#062c55" stroke-width="0.35"/>
<rect x="225.80" y="476.80" width="3.20" height="3.20" fill="#0a4a8c" stroke="#062c55" stroke-width="0.35"/>
<rect x="225.80" y="479.10" width="3.20" height="3.20" fill="#0a4a8c" stroke="#062c55" stroke-width="0.35"/>
<line x1="225.20" y1="477.20" x2="229.60" y2="477.20" stroke="#000" stroke-width="0.9"/>
<path d="M232.00 476.00 L236.00 476.00 L234.00 472.50 Z" fill="#22b14c"/>
<path d="M232.00 482.60 L236.00 482.60 L234.00 479.10 Z" fill="#22b14c"/>
<line x1="231.80" y1="477.20" x2="236.20" y2="477.20" stroke="#000" stroke-width="0.9"/>
<path d="M242.50 470.44 L246.30 470.44 L244.40 474.15 Z" fill="#d0102c"/>
<line x1="242.20" y1="472.45" x2="246.60" y2="472.45" stroke="#000" stroke-width="0.9"/>
<line x1="251.00" y1="471.10" x2="251.00" y2="478.00" stroke="#000000" stroke-width="0.7"/>
<rect x="249.40" y="469.50" width="3.20" height="3.20" fill="#0a4a8c" stroke="#062c55" stroke-width="0.35"/>
<rect x="249.40" y="472.10" width="3.20" height="3.20" fill="#0a4a8c" stroke="#062c55" stroke-width="0.35"/>
<rect x="249.40" y="474.70" width="3.20" height="3.20" fill="#0a4a8c" stroke="#062c55" stroke-width="0.35"/>
<rect x="249.40" y="476.40" width="3.20" height="3.20" fill="#0a4a8c" stroke="#062c55" stroke-width="0.35"/>
<line x1="248.80" y1="474.80" x2="253.20" y2="474.80" stroke="#000" stroke-width="0.9"/>
<path d="M255.40 470.40 L259.40 470.40 L257.40 466.90 Z" fill="#22b14c"/>
<path d="M255.40 477.40 L259.40 477.40 L257.40 473.90 Z" fill="#22b14c"/>
<line x1="255.20" y1="472.40" x2="259.60" y2="472.40" stroke="#000" stroke-width="0.9"/>
<line x1="299.60" y1="366.00" x2="299.60" y2="424.40" stroke="#000000" stroke-width="1.15"/>
<line x1="299.60" y1="434.50" x2="299.60" y2="492.85" stroke="#000000" stroke-width="1.15"/>
<line x1="296.40" y1="424.40" x2="302.50" y2="424.40" stroke="#000000" stroke-width="1.0"/>
<line x1="296.40" y1="434.50" x2="302.50" y2="434.50" stroke="#000000" stroke-width="1.0"/>
<line x1="296.00" y1="366.50" x2="299.60" y2="366.50" stroke="#000000" stroke-width="1.0"/>
<text x="288.40" y="369.60" font-size="8.8" text-anchor="middle" textLength="13.40" lengthAdjust="spacingAndGlyphs" stroke="#000000" stroke-width="0.22">100</text>
<line x1="296.00" y1="389.20" x2="299.60" y2="389.20" stroke="#000000" stroke-width="1.0"/>
<text x="288.40" y="392.30" font-size="8.8" text-anchor="middle" textLength="9.10" lengthAdjust="spacingAndGlyphs" stroke="#000000" stroke-width="0.22">80</text>
<line x1="296.00" y1="413.10" x2="299.60" y2="413.10" stroke="#000000" stroke-width="1.0"/>
<text x="288.40" y="416.20" font-size="8.8" text-anchor="middle" textLength="9.10" lengthAdjust="spacingAndGlyphs" stroke="#000000" stroke-width="0.22">60</text>
<line x1="296.00" y1="444.20" x2="299.60" y2="444.20" stroke="#000000" stroke-width="1.0"/>
<text x="288.00" y="447.30" font-size="8.8" text-anchor="middle" textLength="11.70" lengthAdjust="spacingAndGlyphs" stroke="#000000" stroke-width="0.22">0.4</text>
<line x1="296.00" y1="463.60" x2="299.60" y2="463.60" stroke="#000000" stroke-width="1.0"/>
<text x="288.00" y="466.70" font-size="8.8" text-anchor="middle" textLength="11.70" lengthAdjust="spacingAndGlyphs" stroke="#000000" stroke-width="0.22">0.2</text>
<line x1="296.00" y1="483.00" x2="299.60" y2="483.00" stroke="#000000" stroke-width="1.0"/>
<text x="288.00" y="486.10" font-size="8.8" text-anchor="middle" textLength="11.70" lengthAdjust="spacingAndGlyphs" stroke="#000000" stroke-width="0.22">0.0</text>
<line x1="299.05" y1="492.30" x2="511.70" y2="492.30" stroke="#000000" stroke-width="1.1"/>
<line x1="300.20" y1="483.0" x2="510.90" y2="483.0" stroke="#000000" stroke-width="1.15" stroke-dasharray="1.05 0.95"/>
<line x1="310.00" y1="492.30" x2="310.00" y2="495.50" stroke="#000000" stroke-width="1.0"/>
<text x="309.20" y="504.70" font-size="8.9" text-anchor="middle" textLength="12.60" lengthAdjust="spacingAndGlyphs" stroke="#000000" stroke-width="0.1">ON</text>
<line x1="333.80" y1="492.30" x2="333.80" y2="495.50" stroke="#000000" stroke-width="1.0"/>
<text x="333.00" y="504.70" font-size="8.9" text-anchor="middle" textLength="16.40" lengthAdjust="spacingAndGlyphs" stroke="#000000" stroke-width="0.1">OT1</text>
<line x1="357.60" y1="492.30" x2="357.60" y2="495.50" stroke="#000000" stroke-width="1.0"/>
<text x="356.80" y="504.70" font-size="8.9" text-anchor="middle" textLength="16.40" lengthAdjust="spacingAndGlyphs" stroke="#000000" stroke-width="0.1">OT2</text>
<line x1="381.40" y1="492.30" x2="381.40" y2="495.50" stroke="#000000" stroke-width="1.0"/>
<text x="380.60" y="504.70" font-size="8.9" text-anchor="middle" textLength="16.40" lengthAdjust="spacingAndGlyphs" stroke="#000000" stroke-width="0.1">OT3</text>
<line x1="405.20" y1="492.30" x2="405.20" y2="495.50" stroke="#000000" stroke-width="1.0"/>
<text x="404.40" y="504.70" font-size="8.9" text-anchor="middle" textLength="16.40" lengthAdjust="spacingAndGlyphs" stroke="#000000" stroke-width="0.1">OT4</text>
<line x1="429.00" y1="492.30" x2="429.00" y2="495.50" stroke="#000000" stroke-width="1.0"/>
<text x="428.20" y="504.70" font-size="8.9" text-anchor="middle" textLength="16.40" lengthAdjust="spacingAndGlyphs" stroke="#000000" stroke-width="0.1">OT5</text>
<line x1="452.80" y1="492.30" x2="452.80" y2="495.50" stroke="#000000" stroke-width="1.0"/>
<text x="452.00" y="504.70" font-size="8.9" text-anchor="middle" textLength="16.40" lengthAdjust="spacingAndGlyphs" stroke="#000000" stroke-width="0.1">OT6</text>
<line x1="476.60" y1="492.30" x2="476.60" y2="495.50" stroke="#000000" stroke-width="1.0"/>
<text x="475.80" y="504.70" font-size="8.9" text-anchor="middle" textLength="16.40" lengthAdjust="spacingAndGlyphs" stroke="#000000" stroke-width="0.1">OT7</text>
<line x1="500.40" y1="492.30" x2="500.40" y2="495.50" stroke="#000000" stroke-width="1.0"/>
<text x="499.60" y="504.70" font-size="8.9" text-anchor="middle" textLength="16.40" lengthAdjust="spacingAndGlyphs" stroke="#000000" stroke-width="0.1">OT8</text>
<text x="275.70" y="431.20" font-size="8.7" text-anchor="middle" textLength="33.80" lengthAdjust="spacingAndGlyphs" transform="rotate(-90 275.70 431.20)" fill="#3d3d3d" stroke="#3d3d3d" stroke-width="0.05">Indels (%)</text>
<line x1="302.20" y1="476.25" x2="306.60" y2="476.25" stroke="#000" stroke-width="0.9"/>
<line x1="310.80" y1="371.00" x2="310.80" y2="406.00" stroke="#000000" stroke-width="0.7"/>
<rect x="309.20" y="369.40" width="3.20" height="3.20" fill="#0a4a8c" stroke="#062c55" stroke-width="0.35"/>
<rect x="309.20" y="382.80" width="3.20" height="3.20" fill="#0a4a8c" stroke="#062c55" stroke-width="0.35"/>
<rect x="309.20" y="387.00" width="3.20" height="3.20" fill="#0a4a8c" stroke="#062c55" stroke-width="0.35"/>
<rect x="309.20" y="404.20" width="3.20" height="3.20" fill="#0a4a8c" stroke="#062c55" stroke-width="0.35"/>
<rect x="309.20" y="408.60" width="3.20" height="3.20" fill="#0a4a8c" stroke="#062c55" stroke-width="0.35"/>
<line x1="308.60" y1="388.40" x2="313.00" y2="388.40" stroke="#000" stroke-width="0.9"/>
<path d="M315.70 371.80 L319.70 371.80 L317.70 368.30 Z" fill="#22b14c"/>
<path d="M315.70 378.90 L319.70 378.90 L317.70 375.40 Z" fill="#22b14c"/>
<line x1="315.50" y1="373.40" x2="319.90" y2="373.40" stroke="#000" stroke-width="0.9"/>
<path d="M325.80 455.14 L329.60 455.14 L327.70 458.85 Z" fill="#d0102c"/>
<line x1="325.50" y1="457.15" x2="329.90" y2="457.15" stroke="#000" stroke-width="0.9"/>
<line x1="334.00" y1="469.80" x2="334.00" y2="484.00" stroke="#000000" stroke-width="0.7"/>
<rect x="332.40" y="462.40" width="3.20" height="3.20" fill="#0a4a8c" stroke="#062c55" stroke-width="0.35"/>
<rect x="332.40" y="473.00" width="3.20" height="3.20" fill="#0a4a8c" stroke="#062c55" stroke-width="0.35"/>
<rect x="332.40" y="474.90" width="3.20" height="3.20" fill="#0a4a8c" stroke="#062c55" stroke-width="0.35"/>
<rect x="332.40" y="481.70" width="3.20" height="3.20" fill="#0a4a8c" stroke="#062c55" stroke-width="0.35"/>
<rect x="332.40" y="482.80" width="3.20" height="3.20" fill="#0a4a8c" stroke="#062c55" stroke-width="0.35"/>
<line x1="331.80" y1="477.50" x2="336.20" y2="477.50" stroke="#000" stroke-width="0.9"/>
<path d="M338.60 460.60 L342.60 460.60 L340.60 457.10 Z" fill="#22b14c"/>
<path d="M338.60 485.20 L342.60 485.20 L340.60 481.70 Z" fill="#22b14c"/>
<line x1="338.40" y1="470.80" x2="342.80" y2="470.80" stroke="#000" stroke-width="0.9"/>
<path d="M349.30 474.44 L353.10 474.44 L351.20 478.15 Z" fill="#d0102c"/>
<line x1="349.00" y1="476.45" x2="353.40" y2="476.45" stroke="#000" stroke-width="0.9"/>
<rect x="355.90" y="472.10" width="3.20" height="3.20" fill="#0a4a8c" stroke="#062c55" stroke-width="0.35"/>
<rect x="355.90" y="474.60" width="3.20" height="3.20" fill="#0a4a8c" stroke="#062c55" stroke-width="0.35"/>
<rect x="355.90" y="476.90" width="3.20" height="3.20" fill="#0a4a8c" stroke="#062c55" stroke-width="0.35"/>
<rect x="355.90" y="478.00" width="3.20" height="3.20" fill="#0a4a8c" stroke="#062c55" stroke-width="0.35"/>
<line x1="355.30" y1="477.00" x2="359.70" y2="477.00" stroke="#000" stroke-width="0.9"/>
<path d="M362.20 481.20 L366.20 481.20 L364.20 477.70 Z" fill="#22b14c"/>
<line x1="362.00" y1="480.00" x2="366.40" y2="480.00" stroke="#000" stroke-width="0.9"/>
<path d="M372.90 474.44 L376.70 474.44 L374.80 478.15 Z" fill="#d0102c"/>
<line x1="372.60" y1="476.45" x2="377.00" y2="476.45" stroke="#000" stroke-width="0.9"/>
<rect x="379.60" y="476.30" width="3.20" height="3.20" fill="#0a4a8c" stroke="#062c55" stroke-width="0.35"/>
<rect x="379.60" y="478.80" width="3.20" height="3.20" fill="#0a4a8c" stroke="#062c55" stroke-width="0.35"/>
<rect x="379.60" y="481.70" width="3.20" height="3.20" fill="#0a4a8c" stroke="#062c55" stroke-width="0.35"/>
<line x1="379.00" y1="480.40" x2="383.40" y2="480.40" stroke="#000" stroke-width="0.9"/>
<path d="M385.30 477.90 L389.30 477.90 L387.30 474.40 Z" fill="#22b14c"/>
<path d="M385.30 482.60 L389.30 482.60 L387.30 479.10 Z" fill="#22b14c"/>
<line x1="385.10" y1="478.80" x2="389.50" y2="478.80" stroke="#000" stroke-width="0.9"/>
<path d="M396.00 473.44 L399.80 473.44 L397.90 477.15 Z" fill="#d0102c"/>
<line x1="395.70" y1="475.45" x2="400.10" y2="475.45" stroke="#000" stroke-width="0.9"/>
<rect x="403.00" y="475.90" width="3.20" height="3.20" fill="#0a4a8c" stroke="#062c55" stroke-width="0.35"/>
<rect x="403.00" y="477.80" width="3.20" height="3.20" fill="#0a4a8c" stroke="#062c55" stroke-width="0.35"/>
<rect x="403.00" y="479.40" width="3.20" height="3.20" fill="#0a4a8c" stroke="#062c55" stroke-width="0.35"/>
<line x1="402.40" y1="479.20" x2="406.80" y2="479.20" stroke="#000" stroke-width="0.9"/>
<path d="M409.30 477.00 L413.30 477.00 L411.30 473.50 Z" fill="#22b14c"/>
<path d="M409.30 479.50 L413.30 479.50 L411.30 476.00 Z" fill="#22b14c"/>
<line x1="409.10" y1="476.50" x2="413.50" y2="476.50" stroke="#000" stroke-width="0.9"/>
<path d="M419.80 476.94 L423.60 476.94 L421.70 480.65 Z" fill="#d0102c"/>
<line x1="419.50" y1="478.95" x2="423.90" y2="478.95" stroke="#000" stroke-width="0.9"/>
<rect x="427.20" y="473.00" width="3.20" height="3.20" fill="#0a4a8c" stroke="#062c55" stroke-width="0.35"/>
<rect x="427.20" y="475.90" width="3.20" height="3.20" fill="#0a4a8c" stroke="#062c55" stroke-width="0.35"/>
<rect x="427.20" y="478.40" width="3.20" height="3.20" fill="#0a4a8c" stroke="#062c55" stroke-width="0.35"/>
<line x1="426.60" y1="477.50" x2="431.00" y2="477.50" stroke="#000" stroke-width="0.9"/>
<path d="M432.20 478.90 L436.20 478.90 L434.20 475.40 Z" fill="#22b14c"/>
<line x1="432.00" y1="477.60" x2="436.40" y2="477.60" stroke="#000" stroke-width="0.9"/>
<path d="M442.90 473.44 L446.70 473.44 L444.80 477.15 Z" fill="#d0102c"/>
<line x1="442.60" y1="475.45" x2="447.00" y2="475.45" stroke="#000" stroke-width="0.9"/>
<rect x="449.80" y="474.90" width="3.20" height="3.20" fill="#0a4a8c" stroke="#062c55" stroke-width="0.35"/>
<rect x="449.80" y="477.40" width="3.20" height="3.20" fill="#0a4a8c" stroke="#062c55" stroke-width="0.35"/>
<rect x="449.80" y="478.80" width="3.20" height="3.20" fill="#0a4a8c" stroke="#062c55" stroke-width="0.35"/>
<line x1="449.20" y1="478.80" x2="453.60" y2="478.80" stroke="#000" stroke-width="0.9"/>
<path d="M455.70 480.40 L459.70 480.40 L457.70 476.90 Z" fill="#22b14c"/>
<line x1="455.50" y1="479.20" x2="459.90" y2="479.20" stroke="#000" stroke-width="0.9"/>
<path d="M466.40 476.94 L470.20 476.94 L468.30 480.65 Z" fill="#d0102c"/>
<line x1="466.10" y1="478.95" x2="470.50" y2="478.95" stroke="#000" stroke-width="0.9"/>
<rect x="473.40" y="476.30" width="3.20" height="3.20" fill="#0a4a8c" stroke="#062c55" stroke-width="0.35"/>
<rect x="473.40" y="478.80" width="3.20" height="3.20" fill="#0a4a8c" stroke="#062c55" stroke-width="0.35"/>
<rect x="473.40" y="480.70" width="3.20" height="3.20" fill="#0a4a8c" stroke="#062c55" stroke-width="0.35"/>
<line x1="472.80" y1="480.20" x2="477.20" y2="480.20" stroke="#000" stroke-width="0.9"/>
<path d="M479.30 477.60 L483.30 477.60 L481.30 474.10 Z" fill="#22b14c"/>
<path d="M479.30 482.60 L483.30 482.60 L481.30 479.10 Z" fill="#22b14c"/>
<line x1="479.10" y1="478.50" x2="483.50" y2="478.50" stroke="#000" stroke-width="0.9"/>
<path d="M489.60 472.44 L493.40 472.44 L491.50 476.15 Z" fill="#d0102c"/>
<line x1="489.30" y1="474.45" x2="493.70" y2="474.45" stroke="#000" stroke-width="0.9"/>
<line x1="498.00" y1="468.80" x2="498.00" y2="479.00" stroke="#000000" stroke-width="0.7"/>
<rect x="496.40" y="467.20" width="3.20" height="3.20" fill="#0a4a8c" stroke="#062c55" stroke-width="0.35"/>
<rect x="496.40" y="473.00" width="3.20" height="3.20" fill="#0a4a8c" stroke="#062c55" stroke-width="0.35"/>
<rect x="496.40" y="474.90" width="3.20" height="3.20" fill="#0a4a8c" stroke="#062c55" stroke-width="0.35"/>
<rect x="496.40" y="477.40" width="3.20" height="3.20" fill="#0a4a8c" stroke="#062c55" stroke-width="0.35"/>
<line x1="495.80" y1="475.20" x2="500.20" y2="475.20" stroke="#000" stroke-width="0.9"/>
<path d="M503.00 477.00 L507.00 477.00 L505.00 473.50 Z" fill="#22b14c"/>
<line x1="502.80" y1="476.00" x2="507.20" y2="476.00" stroke="#000" stroke-width="0.9"/>
<path d="M464.00 372.19 L467.60 372.19 L465.80 375.70 Z" fill="#d0102c"/>
<rect x="464.30" y="383.00" width="3.00" height="3.00" fill="#0a4a8c" stroke="#062c55" stroke-width="0.35"/>
<path d="M463.90 396.92 L467.70 396.92 L465.80 393.59 Z" fill="#22b14c"/>
<text x="471.50" y="376.50" font-size="7.6" textLength="19.30" lengthAdjust="spacingAndGlyphs" stroke="#000000" stroke-width="0.12">Naive</text>
<text x="471.50" y="386.80" font-size="7.6" textLength="9.70" lengthAdjust="spacingAndGlyphs" stroke="#000000" stroke-width="0.12">i53</text>
<text x="471.50" y="397.60" font-size="7.6" textLength="33.60" lengthAdjust="spacingAndGlyphs" stroke="#000000" stroke-width="0.12">i53+hGSE</text>
<g font-weight="bold">
<text x="7.90" y="15.70" font-size="12" textLength="8.60" lengthAdjust="spacingAndGlyphs" stroke="#000000" stroke-width="0.3">A</text>
<text x="8.60" y="148.50" font-size="12" textLength="6.80" lengthAdjust="spacingAndGlyphs" stroke="#000000" stroke-width="0.3">B</text>
<text x="232.50" y="149.40" font-size="12.4" textLength="7.50" lengthAdjust="spacingAndGlyphs" stroke="#000000" stroke-width="0.3">C</text>
<text x="8.50" y="237.00" font-size="12" textLength="8.30" lengthAdjust="spacingAndGlyphs" stroke="#000000" stroke-width="0.3">D</text>
<text x="8.70" y="364.30" font-size="12" textLength="6.20" lengthAdjust="spacingAndGlyphs" stroke="#000000" stroke-width="0.3">E</text>
</g>
<path d="M0 0H520V512H0Z M1.35 1.2V510.7H518.6V1.2Z" fill="#161213" fill-rule="evenodd"/>
</svg>
</body></html>
